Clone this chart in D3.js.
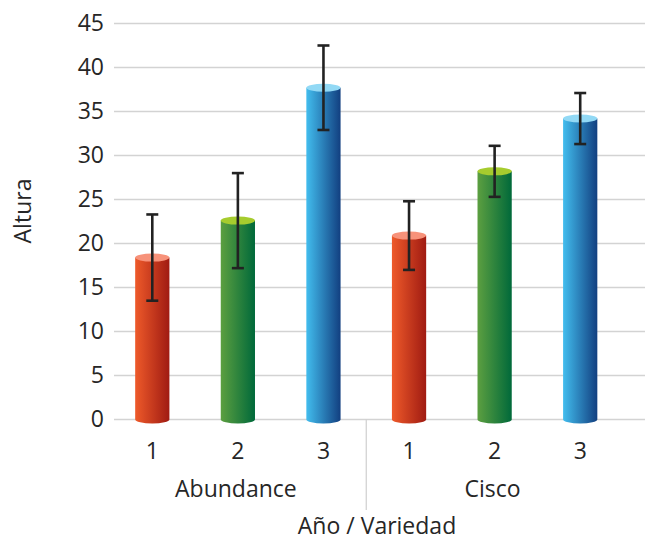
<!DOCTYPE html>
<html>
<head>
<meta charset="utf-8">
<script src="https://cdn.jsdelivr.net/npm/d3@7"></script>
<style>
  html, body { margin: 0; padding: 0; background: #fff; }
  svg { display: block; }
  text { font-family: "Open Sans", "Noto Sans", sans-serif; fill: #262626; }
</style>
</head>
<body>
<svg id="chart" width="645" height="542"></svg>
<script>
// ---- data ----
const groups = ["Abundance", "Cisco"];
const years = ["1", "2", "3"];
const values = [18.4, 22.6, 37.7, 20.9, 28.2, 34.2];
const errors = [4.9, 5.4, 4.8, 3.9, 2.9, 2.9];
const yTicks = [0, 5, 10, 15, 20, 25, 30, 35, 40, 45];
const yLabel = "Altura";
const xLabel = "Año / Variedad";

// palettes per year: [left, right, top]
const palettes = [
  ["#ee5a2a", "#a01b12", "#f7927a"],
  ["#5c9f40", "#00693a", "#a6cc2e"],
  ["#42bdee", "#123f80", "#92d9f5"]
];

const rows = [];
groups.forEach((g, gi) => years.forEach((yr, yi) => {
  const i = gi * years.length + yi;
  rows.push({ key: g + "-" + yr, group: g, year: yr, yi, v: values[i], e: errors[i] });
}));

const svg = d3.select("#chart");
const W = 645;
const FS = "23px";

const x = d3.scaleBand()
  .domain(rows.map(d => d.key))
  .range([109.5, 623])
  .paddingInner(0.6)
  .paddingOuter(0.3);

const y = d3.scaleLinear().domain([0, 45]).range([419.5, 23.5]);

// gradients
const defs = svg.append("defs");
palettes.forEach((p, i) => {
  const g = defs.append("linearGradient").attr("id", "grad" + i)
    .attr("x1", "0%").attr("x2", "100%").attr("y1", "0%").attr("y2", "0%");
  g.append("stop").attr("offset", "0%").attr("stop-color", p[0]);
  g.append("stop").attr("offset", "100%").attr("stop-color", p[1]);
});

// gridlines
svg.append("g").selectAll("line").data(yTicks).join("line")
  .attr("x1", 114).attr("x2", W)
  .attr("y1", d => y(d)).attr("y2", d => y(d))
  .attr("stroke", "#d3d3d3").attr("stroke-width", 1.5);

// y axis labels
const yAxis = svg.append("g").attr("transform", "translate(104,0)")
  .call(d3.axisLeft(y).tickValues(yTicks).tickSize(0).tickPadding(0));
yAxis.select(".domain").remove();
yAxis.selectAll("text").style("font-size", FS).style("font-family", "'Open Sans', sans-serif")
  .attr("fill", "#262626");

// cylinders
const ry = 4;
const bars = svg.append("g").selectAll("g").data(rows).join("g");
bars.append("path")
  .attr("d", d => {
    const x0 = x(d.key), x1 = x0 + x.bandwidth(), rx = x.bandwidth() / 2;
    const yt = y(d.v), yb = y(0);
    return `M${x0},${yt} L${x0},${yb} A${rx},${ry} 0 0 0 ${x1},${yb} L${x1},${yt} Z`;
  })
  .attr("fill", d => `url(#grad${d.yi})`);
bars.append("ellipse")
  .attr("cx", d => x(d.key) + x.bandwidth() / 2)
  .attr("cy", d => y(d.v))
  .attr("rx", x.bandwidth() / 2)
  .attr("ry", ry)
  .attr("fill", d => palettes[d.yi][2]);

// error bars
const cap = 6;
const eb = svg.append("g").selectAll("g").data(rows).join("g")
  .attr("stroke", "#222").attr("stroke-width", 2.6);
eb.append("line")
  .attr("x1", d => x(d.key) + x.bandwidth() / 2).attr("x2", d => x(d.key) + x.bandwidth() / 2)
  .attr("y1", d => y(d.v + d.e)).attr("y2", d => y(d.v - d.e));
eb.append("line")
  .attr("x1", d => x(d.key) + x.bandwidth() / 2 - cap).attr("x2", d => x(d.key) + x.bandwidth() / 2 + cap)
  .attr("y1", d => y(d.v + d.e)).attr("y2", d => y(d.v + d.e));
eb.append("line")
  .attr("x1", d => x(d.key) + x.bandwidth() / 2 - cap).attr("x2", d => x(d.key) + x.bandwidth() / 2 + cap)
  .attr("y1", d => y(d.v - d.e)).attr("y2", d => y(d.v - d.e));

// x axis year labels
const xAxis = svg.append("g").attr("transform", `translate(0,${y(0)})`)
  .call(d3.axisBottom(x).tickSize(0).tickPadding(0).tickFormat(k => k.split("-")[1]));
xAxis.select(".domain").remove();
xAxis.selectAll("text").attr("dy", null).attr("y", 39)
  .style("font-size", FS).style("font-family", "'Open Sans', sans-serif").attr("fill", "#262626");

// group separator
const sepX = (x(rows[2].key) + x.bandwidth() + x(rows[3].key)) / 2;
svg.append("line")
  .attr("x1", sepX).attr("x2", sepX).attr("y1", y(0)).attr("y2", 510)
  .attr("stroke", "#cfcfcf").attr("stroke-width", 1.2);

// group labels
svg.append("g").selectAll("text").data(groups).join("text")
  .attr("x", (g, gi) => {
    const a = x(rows[gi * 3].key), b = x(rows[gi * 3 + 2].key) + x.bandwidth();
    return (a + b) / 2 - 2;
  })
  .attr("y", 497)
  .attr("text-anchor", "middle")
  .style("font-size", FS)
  .text(g => g);

// axis titles
svg.append("text")
  .attr("x", 377).attr("y", 534)
  .attr("text-anchor", "middle")
  .style("font-size", FS)
  .text(xLabel);

svg.append("text")
  .attr("transform", "translate(31,211) rotate(-90)")
  .attr("text-anchor", "middle")
  .style("font-size", FS)
  .text(yLabel);
</script>
</body>
</html>
